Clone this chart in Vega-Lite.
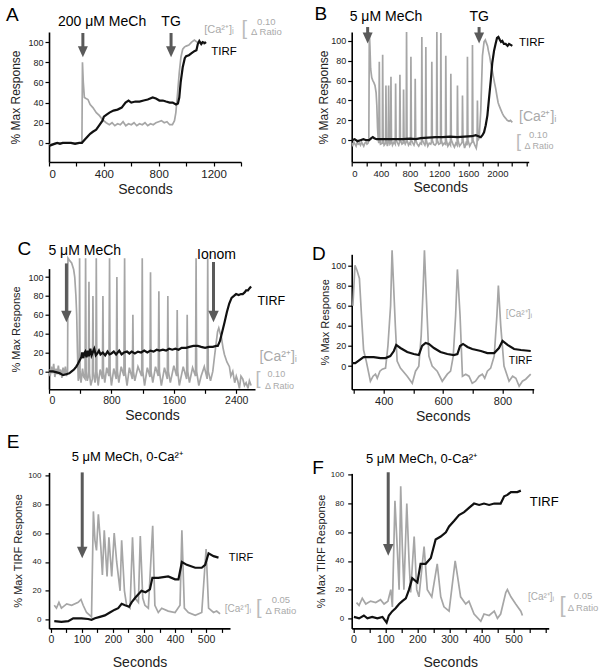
{
"$schema": "https://vega.github.io/schema/vega-lite/v6.json",
"padding": {"left": 5, "top": 5, "right": 0, "bottom": 0},
"config": {
  "font": "Liberation Sans",
  "view": {"stroke": null},
  "axis": {"grid": false, "labelOverlap": false, "domainColor": "#000", "domainWidth": 1.6, "tickColor": "#000", "tickSize": 4, "tickWidth": 1.2, "labelColor": "#222", "titleColor": "#222", "titleFontWeight": "normal", "labelFontSize": 9, "titleFontSize": 12, "labelPadding": 2, "titlePadding": 3}
},
"datasets": {
  "A_tirf": [{"t":0,"v":-3},{"t":20,"v":-2},{"t":40,"v":-1},{"t":60,"v":0},{"t":80,"v":-1},{"t":100,"v":0},{"t":130,"v":0},{"t":160,"v":0},{"t":190,"v":-1},{"t":220,"v":0},{"t":240,"v":0},{"t":260,"v":3},{"t":280,"v":6},{"t":300,"v":9},{"t":320,"v":11},{"t":344,"v":13},{"t":370,"v":18},{"t":390,"v":22},{"t":400,"v":26},{"t":420,"v":28},{"t":441,"v":30},{"t":470,"v":32},{"t":500,"v":33},{"t":530,"v":35},{"t":558,"v":40},{"t":580,"v":42},{"t":600,"v":40},{"t":630,"v":41},{"t":660,"v":41},{"t":690,"v":42},{"t":720,"v":43},{"t":756,"v":45},{"t":780,"v":44},{"t":805,"v":42},{"t":830,"v":42},{"t":853,"v":41},{"t":880,"v":40},{"t":902,"v":40},{"t":926,"v":38},{"t":940,"v":39},{"t":950,"v":45},{"t":960,"v":60},{"t":975,"v":75},{"t":990,"v":84},{"t":1000,"v":86},{"t":1020,"v":87},{"t":1040,"v":89},{"t":1060,"v":91},{"t":1075,"v":92},{"t":1085,"v":98},{"t":1096,"v":101},{"t":1110,"v":98},{"t":1120,"v":100},{"t":1135,"v":99},{"t":1145,"v":100}],
  "A_ca": [{"t":0,"v":-2},{"t":30,"v":-1},{"t":60,"v":0},{"t":100,"v":0},{"t":150,"v":0},{"t":200,"v":0},{"t":240,"v":0},{"t":244,"v":80},{"t":250,"v":60},{"t":258,"v":45},{"t":270,"v":44},{"t":284,"v":43},{"t":300,"v":38},{"t":320,"v":35},{"t":345,"v":30},{"t":368,"v":27},{"t":390,"v":23},{"t":417,"v":20},{"t":440,"v":18},{"t":460,"v":20},{"t":480,"v":17},{"t":500,"v":19},{"t":520,"v":18},{"t":540,"v":21},{"t":560,"v":17},{"t":580,"v":19},{"t":600,"v":18},{"t":620,"v":20},{"t":640,"v":17},{"t":660,"v":19},{"t":680,"v":18},{"t":700,"v":20},{"t":720,"v":17},{"t":740,"v":19},{"t":760,"v":18},{"t":780,"v":20},{"t":800,"v":21},{"t":820,"v":22},{"t":840,"v":20},{"t":860,"v":21},{"t":880,"v":18},{"t":900,"v":18},{"t":915,"v":22},{"t":925,"v":30},{"t":938,"v":50},{"t":950,"v":70},{"t":962,"v":85},{"t":975,"v":93},{"t":987,"v":95},{"t":1000,"v":96},{"t":1020,"v":97},{"t":1040,"v":100},{"t":1060,"v":102},{"t":1080,"v":100},{"t":1100,"v":100},{"t":1115,"v":99},{"t":1132,"v":98},{"t":1145,"v":100}],
  "B_tirf": [{"t":0,"v":0},{"t":40,"v":1},{"t":80,"v":-1},{"t":120,"v":0},{"t":160,"v":1},{"t":200,"v":0},{"t":240,"v":0},{"t":270,"v":2},{"t":290,"v":3},{"t":310,"v":2},{"t":340,"v":1},{"t":400,"v":1},{"t":500,"v":1},{"t":600,"v":1},{"t":700,"v":1},{"t":800,"v":1.5},{"t":881,"v":1},{"t":950,"v":2},{"t":1050,"v":2.5},{"t":1150,"v":3},{"t":1250,"v":3},{"t":1350,"v":3.5},{"t":1450,"v":3},{"t":1550,"v":3.5},{"t":1650,"v":4},{"t":1703,"v":5},{"t":1740,"v":4},{"t":1772,"v":3},{"t":1795,"v":5},{"t":1817,"v":8},{"t":1840,"v":15},{"t":1863,"v":25},{"t":1885,"v":42},{"t":1909,"v":60},{"t":1930,"v":78},{"t":1954,"v":90},{"t":1975,"v":97},{"t":1995,"v":103},{"t":2014,"v":104},{"t":2035,"v":101},{"t":2050,"v":99},{"t":2068,"v":100},{"t":2090,"v":97},{"t":2114,"v":97},{"t":2140,"v":95},{"t":2160,"v":97},{"t":2183,"v":96},{"t":2205,"v":95}],
  "B_ca": [{"t":0,"v":-3},{"t":15,"v":-5},{"t":30,"v":-2},{"t":45,"v":-4},{"t":60,"v":-6},{"t":75,"v":-2},{"t":90,"v":-4},{"t":105,"v":-3},{"t":120,"v":-5},{"t":135,"v":-2},{"t":150,"v":-4},{"t":165,"v":-6},{"t":180,"v":-3},{"t":195,"v":-2},{"t":210,"v":-4},{"t":225,"v":-3},{"t":235,"v":0},{"t":242,"v":110},{"t":250,"v":95},{"t":260,"v":72},{"t":275,"v":63},{"t":290,"v":60},{"t":305,"v":58},{"t":320,"v":55},{"t":335,"v":48},{"t":345,"v":35},{"t":355,"v":12},{"t":365,"v":0},{"t":372,"v":-3},{"t":379,"v":79},{"t":386,"v":2},{"t":395,"v":-4},{"t":420,"v":-3},{"t":425,"v":86},{"t":432,"v":0},{"t":445,"v":-5},{"t":465,"v":-3},{"t":470,"v":55},{"t":477,"v":-1},{"t":490,"v":-6},{"t":502,"v":-2},{"t":507,"v":55},{"t":514,"v":0},{"t":525,"v":-4},{"t":534,"v":-3},{"t":539,"v":64},{"t":546,"v":0},{"t":560,"v":-5},{"t":580,"v":-2},{"t":598,"v":-4},{"t":603,"v":57},{"t":610,"v":0},{"t":630,"v":-3},{"t":645,"v":-5},{"t":657,"v":-2},{"t":662,"v":66},{"t":669,"v":0},{"t":690,"v":-4},{"t":707,"v":-3},{"t":712,"v":51},{"t":719,"v":-1},{"t":735,"v":-4},{"t":748,"v":-2},{"t":753,"v":112},{"t":760,"v":0},{"t":780,"v":-5},{"t":795,"v":-3},{"t":808,"v":-4},{"t":813,"v":84},{"t":820,"v":0},{"t":840,"v":-3},{"t":855,"v":-5},{"t":867,"v":-2},{"t":872,"v":62},{"t":879,"v":0},{"t":900,"v":-4},{"t":920,"v":-6},{"t":940,"v":-3},{"t":958,"v":-4},{"t":963,"v":104},{"t":970,"v":0},{"t":990,"v":-3},{"t":1005,"v":-5},{"t":1013,"v":-3},{"t":1018,"v":94},{"t":1025,"v":0},{"t":1045,"v":-6},{"t":1065,"v":-3},{"t":1085,"v":-4},{"t":1095,"v":-2},{"t":1100,"v":79},{"t":1107,"v":0},{"t":1125,"v":-4},{"t":1145,"v":-5},{"t":1164,"v":-3},{"t":1169,"v":110},{"t":1176,"v":0},{"t":1195,"v":-4},{"t":1219,"v":-3},{"t":1224,"v":108},{"t":1231,"v":0},{"t":1250,"v":-5},{"t":1270,"v":-3},{"t":1287,"v":-4},{"t":1292,"v":85},{"t":1299,"v":0},{"t":1320,"v":-6},{"t":1340,"v":-3},{"t":1356,"v":-5},{"t":1361,"v":67},{"t":1368,"v":0},{"t":1390,"v":-4},{"t":1410,"v":-7},{"t":1430,"v":-3},{"t":1447,"v":-5},{"t":1452,"v":55},{"t":1459,"v":0},{"t":1480,"v":-6},{"t":1500,"v":-4},{"t":1516,"v":-2},{"t":1521,"v":45},{"t":1528,"v":0},{"t":1550,"v":-8},{"t":1570,"v":-3},{"t":1584,"v":-5},{"t":1589,"v":84},{"t":1596,"v":0},{"t":1620,"v":-6},{"t":1640,"v":-3},{"t":1653,"v":-2},{"t":1658,"v":96},{"t":1665,"v":0},{"t":1690,"v":-5},{"t":1710,"v":-8},{"t":1721,"v":-3},{"t":1726,"v":40},{"t":1733,"v":0},{"t":1750,"v":2},{"t":1772,"v":30},{"t":1795,"v":85},{"t":1817,"v":99},{"t":1835,"v":101},{"t":1849,"v":98},{"t":1865,"v":95},{"t":1877,"v":90},{"t":1893,"v":85},{"t":1909,"v":78},{"t":1925,"v":72},{"t":1940,"v":66},{"t":1960,"v":58},{"t":1977,"v":52},{"t":1995,"v":44},{"t":2010,"v":38},{"t":2023,"v":35},{"t":2045,"v":31},{"t":2068,"v":27},{"t":2090,"v":24},{"t":2114,"v":22},{"t":2135,"v":20},{"t":2160,"v":19},{"t":2180,"v":20},{"t":2205,"v":18}],
  "C_tirf": [{"t":0,"v":0},{"t":50,"v":0},{"t":100,"v":-1},{"t":140,"v":-2},{"t":180,"v":-4},{"t":220,"v":-3},{"t":260,"v":-2},{"t":290,"v":0},{"t":320,"v":2},{"t":350,"v":5},{"t":371,"v":8},{"t":395,"v":12},{"t":414,"v":15},{"t":425,"v":20},{"t":440,"v":14},{"t":450,"v":19},{"t":465,"v":21},{"t":480,"v":15},{"t":495,"v":22},{"t":510,"v":16},{"t":530,"v":24},{"t":545,"v":17},{"t":560,"v":20},{"t":580,"v":24},{"t":600,"v":17},{"t":620,"v":19},{"t":640,"v":22},{"t":660,"v":18},{"t":690,"v":20},{"t":720,"v":17},{"t":750,"v":21},{"t":776,"v":18},{"t":800,"v":19},{"t":830,"v":21},{"t":860,"v":18},{"t":880,"v":20},{"t":900,"v":22},{"t":930,"v":18},{"t":960,"v":20},{"t":1000,"v":21},{"t":1030,"v":19},{"t":1060,"v":21},{"t":1100,"v":19},{"t":1140,"v":21},{"t":1180,"v":20},{"t":1220,"v":22},{"t":1260,"v":20},{"t":1300,"v":22},{"t":1340,"v":21},{"t":1380,"v":23},{"t":1416,"v":22},{"t":1460,"v":23},{"t":1500,"v":22},{"t":1540,"v":24},{"t":1580,"v":23},{"t":1620,"v":24},{"t":1660,"v":23},{"t":1700,"v":25},{"t":1758,"v":25},{"t":1800,"v":26},{"t":1850,"v":27},{"t":1907,"v":27},{"t":1950,"v":26},{"t":2000,"v":25},{"t":2050,"v":26},{"t":2100,"v":26},{"t":2142,"v":27},{"t":2163,"v":27},{"t":2190,"v":32},{"t":2220,"v":42},{"t":2250,"v":52},{"t":2280,"v":63},{"t":2310,"v":72},{"t":2340,"v":78},{"t":2370,"v":80},{"t":2398,"v":82},{"t":2430,"v":81},{"t":2460,"v":82},{"t":2483,"v":82},{"t":2510,"v":84},{"t":2526,"v":86},{"t":2550,"v":86},{"t":2568,"v":88},{"t":2590,"v":90}],
  "C_ca": [{"t":0,"v":2},{"t":15,"v":-5},{"t":30,"v":5},{"t":45,"v":-2},{"t":60,"v":8},{"t":75,"v":-6},{"t":90,"v":3},{"t":105,"v":-3},{"t":120,"v":6},{"t":135,"v":-4},{"t":150,"v":2},{"t":165,"v":-7},{"t":180,"v":4},{"t":195,"v":-3},{"t":210,"v":5},{"t":225,"v":-5},{"t":238,"v":0},{"t":243,"v":120},{"t":260,"v":118},{"t":290,"v":115},{"t":316,"v":108},{"t":330,"v":100},{"t":345,"v":80},{"t":355,"v":60},{"t":365,"v":20},{"t":375,"v":-10},{"t":388,"v":-5},{"t":392,"v":120},{"t":398,"v":0},{"t":410,"v":-12},{"t":430,"v":3},{"t":445,"v":-6},{"t":462,"v":-8},{"t":469,"v":120},{"t":476,"v":0},{"t":490,"v":-10},{"t":505,"v":-5},{"t":512,"v":95},{"t":519,"v":-2},{"t":535,"v":-15},{"t":556,"v":-8},{"t":563,"v":80},{"t":570,"v":0},{"t":590,"v":-12},{"t":600,"v":-5},{"t":606,"v":120},{"t":613,"v":0},{"t":630,"v":-15},{"t":655,"v":2},{"t":684,"v":-8},{"t":691,"v":80},{"t":698,"v":0},{"t":715,"v":-12},{"t":740,"v":4},{"t":768,"v":-5},{"t":776,"v":120},{"t":783,"v":0},{"t":800,"v":-15},{"t":830,"v":3},{"t":862,"v":-8},{"t":870,"v":100},{"t":877,"v":0},{"t":895,"v":-12},{"t":925,"v":5},{"t":960,"v":-5},{"t":969,"v":120},{"t":976,"v":0},{"t":1000,"v":-15},{"t":1030,"v":4},{"t":1068,"v":-8},{"t":1075,"v":60},{"t":1082,"v":0},{"t":1100,"v":-10},{"t":1140,"v":5},{"t":1188,"v":-5},{"t":1195,"v":120},{"t":1202,"v":0},{"t":1225,"v":-15},{"t":1260,"v":4},{"t":1294,"v":-6},{"t":1301,"v":105},{"t":1308,"v":0},{"t":1330,"v":-12},{"t":1365,"v":5},{"t":1400,"v":-5},{"t":1408,"v":85},{"t":1415,"v":0},{"t":1440,"v":-15},{"t":1480,"v":4},{"t":1516,"v":-8},{"t":1523,"v":80},{"t":1530,"v":0},{"t":1555,"v":-12},{"t":1600,"v":6},{"t":1636,"v":-5},{"t":1643,"v":65},{"t":1650,"v":0},{"t":1670,"v":-15},{"t":1720,"v":5},{"t":1764,"v":-8},{"t":1771,"v":60},{"t":1778,"v":0},{"t":1800,"v":-12},{"t":1840,"v":4},{"t":1878,"v":-5},{"t":1885,"v":120},{"t":1892,"v":0},{"t":1920,"v":-15},{"t":1950,"v":-5},{"t":1990,"v":5},{"t":2027,"v":-8},{"t":2034,"v":120},{"t":2041,"v":0},{"t":2070,"v":-10},{"t":2099,"v":0},{"t":2120,"v":15},{"t":2142,"v":30},{"t":2160,"v":42},{"t":2176,"v":46},{"t":2195,"v":40},{"t":2206,"v":38},{"t":2230,"v":25},{"t":2248,"v":18},{"t":2280,"v":10},{"t":2312,"v":5},{"t":2330,"v":-5},{"t":2355,"v":0},{"t":2380,"v":-12},{"t":2400,"v":-5},{"t":2419,"v":-10},{"t":2440,"v":-18},{"t":2460,"v":-5},{"t":2483,"v":-8},{"t":2505,"v":-15},{"t":2526,"v":-12},{"t":2550,"v":-18},{"t":2568,"v":-10},{"t":2590,"v":-15}],
  "D_tirf": [{"t":293,"v":3},{"t":304,"v":3},{"t":318,"v":6},{"t":332,"v":9},{"t":366,"v":9},{"t":389,"v":8},{"t":406,"v":8},{"t":422,"v":10},{"t":434,"v":15},{"t":442,"v":21},{"t":456,"v":18},{"t":479,"v":14},{"t":501,"v":12},{"t":518,"v":11},{"t":529,"v":20},{"t":541,"v":23},{"t":552,"v":22},{"t":569,"v":18},{"t":591,"v":14},{"t":614,"v":12},{"t":636,"v":11},{"t":648,"v":12},{"t":657,"v":20},{"t":667,"v":22},{"t":682,"v":19},{"t":698,"v":17},{"t":727,"v":15},{"t":749,"v":13},{"t":772,"v":13},{"t":788,"v":18},{"t":800,"v":25},{"t":817,"v":21},{"t":839,"v":17},{"t":862,"v":16},{"t":895,"v":15}],
  "D_ca": [{"t":296,"v":60},{"t":303,"v":100},{"t":310,"v":95},{"t":318,"v":87},{"t":325,"v":50},{"t":332,"v":16},{"t":341,"v":5},{"t":355,"v":-15},{"t":364,"v":-10},{"t":372,"v":-8},{"t":378,"v":-12},{"t":387,"v":-5},{"t":395,"v":-3},{"t":406,"v":-2},{"t":414,"v":20},{"t":423,"v":60},{"t":428,"v":115},{"t":439,"v":40},{"t":445,"v":5},{"t":456,"v":-2},{"t":479,"v":-10},{"t":496,"v":-17},{"t":507,"v":-5},{"t":518,"v":0},{"t":526,"v":30},{"t":533,"v":80},{"t":537,"v":115},{"t":546,"v":50},{"t":552,"v":10},{"t":563,"v":0},{"t":580,"v":-5},{"t":597,"v":-15},{"t":614,"v":-8},{"t":625,"v":-5},{"t":634,"v":10},{"t":642,"v":50},{"t":648,"v":96},{"t":657,"v":50},{"t":665,"v":-10},{"t":676,"v":-8},{"t":687,"v":-10},{"t":698,"v":-17},{"t":709,"v":-15},{"t":721,"v":-10},{"t":732,"v":-8},{"t":740,"v":-12},{"t":749,"v":-5},{"t":760,"v":-2},{"t":772,"v":10},{"t":781,"v":50},{"t":786,"v":80},{"t":794,"v":40},{"t":805,"v":0},{"t":822,"v":-15},{"t":834,"v":-10},{"t":845,"v":-12},{"t":856,"v":-20},{"t":867,"v":-15},{"t":878,"v":-13},{"t":895,"v":-8}],
  "E_tirf": [{"t":11,"v":-1},{"t":34,"v":-1.5},{"t":56,"v":-1},{"t":72,"v":1},{"t":99,"v":1},{"t":120,"v":0.5},{"t":131,"v":0},{"t":142,"v":1},{"t":158,"v":2},{"t":174,"v":3},{"t":190,"v":5},{"t":206,"v":7},{"t":217,"v":8},{"t":228,"v":11},{"t":239,"v":10},{"t":252,"v":9},{"t":260,"v":12},{"t":271,"v":15},{"t":292,"v":20},{"t":305,"v":19},{"t":319,"v":21},{"t":327,"v":29},{"t":346,"v":29},{"t":378,"v":30},{"t":400,"v":28},{"t":411,"v":28},{"t":422,"v":40},{"t":438,"v":38},{"t":465,"v":36},{"t":486,"v":36},{"t":497,"v":38},{"t":508,"v":46},{"t":524,"v":44},{"t":540,"v":43}],
  "E_ca": [{"t":11,"v":10},{"t":18,"v":8},{"t":26,"v":12},{"t":34,"v":8},{"t":51,"v":11},{"t":67,"v":10},{"t":88,"v":12},{"t":97,"v":14},{"t":104,"v":10},{"t":115,"v":5},{"t":131,"v":2},{"t":137,"v":75},{"t":142,"v":55},{"t":147,"v":48},{"t":153,"v":73},{"t":161,"v":50},{"t":166,"v":31},{"t":172,"v":62},{"t":181,"v":30},{"t":187,"v":57},{"t":196,"v":30},{"t":204,"v":60},{"t":212,"v":40},{"t":223,"v":20},{"t":228,"v":55},{"t":237,"v":20},{"t":244,"v":10},{"t":255,"v":8},{"t":263,"v":57},{"t":271,"v":15},{"t":282,"v":12},{"t":288,"v":58},{"t":296,"v":15},{"t":303,"v":10},{"t":314,"v":8},{"t":328,"v":65},{"t":335,"v":10},{"t":346,"v":5},{"t":357,"v":8},{"t":378,"v":6},{"t":400,"v":5},{"t":416,"v":10},{"t":422,"v":62},{"t":430,"v":8},{"t":443,"v":5},{"t":465,"v":3},{"t":486,"v":5},{"t":500,"v":49},{"t":508,"v":8},{"t":524,"v":5},{"t":534,"v":6},{"t":545,"v":4}],
  "F_tirf": [{"t":2,"v":1},{"t":18,"v":0},{"t":33,"v":2},{"t":44,"v":0},{"t":59,"v":1},{"t":75,"v":0},{"t":91,"v":1},{"t":104,"v":-3},{"t":111,"v":2},{"t":122,"v":5},{"t":132,"v":7},{"t":143,"v":10},{"t":153,"v":12},{"t":164,"v":14},{"t":174,"v":20},{"t":184,"v":28},{"t":200,"v":25},{"t":210,"v":38},{"t":226,"v":38},{"t":242,"v":42},{"t":257,"v":55},{"t":273,"v":57},{"t":289,"v":60},{"t":299,"v":64},{"t":315,"v":68},{"t":330,"v":72},{"t":346,"v":74},{"t":361,"v":77},{"t":377,"v":80},{"t":393,"v":79},{"t":408,"v":80},{"t":424,"v":79},{"t":440,"v":80},{"t":460,"v":80},{"t":471,"v":85},{"t":481,"v":86},{"t":492,"v":88},{"t":512,"v":88},{"t":523,"v":89}],
  "F_ca": [{"t":10,"v":11},{"t":18,"v":9},{"t":28,"v":14},{"t":39,"v":10},{"t":54,"v":12},{"t":70,"v":11},{"t":85,"v":13},{"t":96,"v":10},{"t":108,"v":12},{"t":117,"v":20},{"t":122,"v":8},{"t":130,"v":82},{"t":137,"v":50},{"t":143,"v":20},{"t":148,"v":92},{"t":153,"v":50},{"t":158,"v":20},{"t":167,"v":80},{"t":174,"v":40},{"t":179,"v":18},{"t":190,"v":57},{"t":198,"v":20},{"t":205,"v":15},{"t":221,"v":50},{"t":231,"v":20},{"t":245,"v":15},{"t":262,"v":38},{"t":273,"v":15},{"t":283,"v":8},{"t":299,"v":5},{"t":318,"v":40},{"t":325,"v":30},{"t":335,"v":15},{"t":351,"v":10},{"t":361,"v":12},{"t":377,"v":3},{"t":398,"v":-2},{"t":408,"v":3},{"t":424,"v":2},{"t":440,"v":5},{"t":450,"v":0},{"t":460,"v":3},{"t":476,"v":18},{"t":481,"v":20},{"t":492,"v":15},{"t":507,"v":10},{"t":523,"v":5},{"t":528,"v":2}]
},
"columns": 2,
"spacing": {"row": 82.7, "column": 96.7},
"bounds": "flush",
"align": "each",
"concat": [
     {"width": 192, "height": 130, "layer": [
       {"data": {"name": "A_ca"}, "mark": {"type": "line", "color": "#a6a6a6", "strokeWidth": 1.7, "clip": true},
        "encoding": {"x": {"field": "t", "type": "quantitative", "scale": {"domain": [0, 1400], "nice": false, "zero": false}, "axis": {"title": "Seconds", "format": "d", "tickCount": 100, "labelOverlap": false, "values": [0,200,400,600,800,1000,1200,1400], "labelExpr": "datum.value % 400 === 0 ? datum.label : ''", "labelFontSize": 11.5, "titleFontSize": 14}},
                     "y": {"field": "v", "type": "quantitative", "scale": {"domain": [-19, 110], "nice": false, "zero": false}, "axis": {"title": "% Max Response", "tickCount": 100, "labelOverlap": false, "values": [0,20,40,60,80,100], "titlePadding": 5}}}},
       {"data": {"name": "A_tirf"}, "mark": {"type": "line", "color": "#111", "strokeWidth": 2.2, "clip": true}, "encoding": {"x": {"field": "t", "type": "quantitative"}, "y": {"field": "v", "type": "quantitative"}}},
       {"data": {"values": [{}]}, "mark": {"type": "text", "text": "A", "fontSize": 19, "align": "center", "baseline": "middle"}, "encoding": {"x": {"datum": -268}, "y": {"datum": 127}}},
       {"data": {"values": [{}]}, "mark": {"type": "text", "text": "200 μM MeCh", "fontSize": 14, "align": "center", "baseline": "middle"}, "encoding": {"x": {"datum": 387}, "y": {"datum": 120}}},
       {"data": {"values": [{}]}, "mark": {"type": "text", "text": "TG", "fontSize": 14, "align": "center", "baseline": "middle"}, "encoding": {"x": {"datum": 890}, "y": {"datum": 120}}},
       {"data": {"values": [{}]}, "mark": {"type": "rule", "color": "#5a5a5a", "strokeWidth": 3}, "encoding": {"x": {"datum": 247}, "y": {"datum": 109}, "y2": {"datum": 92}}},
       {"data": {"values": [{}]}, "mark": {"type": "rule", "color": "#5a5a5a", "strokeWidth": 3}, "encoding": {"x": {"datum": 890}, "y": {"datum": 109}, "y2": {"datum": 92}}},
       {"data": {"values": [{}]}, "mark": {"type": "point", "shape": "M-1,-2.2L1,-2.2L0,0Z", "filled": true, "size": 100, "color": "#5a5a5a", "opacity": 1}, "encoding": {"x": {"datum": 247}, "y": {"datum": 85}}},
       {"data": {"values": [{}]}, "mark": {"type": "point", "shape": "M-1,-2.2L1,-2.2L0,0Z", "filled": true, "size": 100, "color": "#5a5a5a", "opacity": 1}, "encoding": {"x": {"datum": 890}, "y": {"datum": 85}}},
       {"data": {"values": [{}]}, "mark": {"type": "text", "text": "TIRF", "fontSize": 11.5, "align": "left", "baseline": "middle"}, "encoding": {"x": {"datum": 1183}, "y": {"datum": 90}}},
       {"data": {"values": [{}]}, "mark": {"type": "text", "text": "[Ca²⁺]ᵢ", "fontSize": 11, "align": "left", "baseline": "middle", "color": "#aaa"}, "encoding": {"x": {"datum": 1132}, "y": {"datum": 111.5}}},
       {"data": {"values": [{}]}, "mark": {"type": "text", "text": "[", "fontSize": 20, "align": "center", "baseline": "middle", "color": "#bbb"}, "encoding": {"x": {"datum": 1424}, "y": {"datum": 113}}},
       {"data": {"values": [{}]}, "mark": {"type": "text", "text": "0.10", "fontSize": 9.5, "align": "center", "baseline": "middle", "color": "#aaa"}, "encoding": {"x": {"datum": 1585}, "y": {"datum": 119.5}}},
       {"data": {"values": [{}]}, "mark": {"type": "text", "text": "Δ Ratio", "fontSize": 9.5, "align": "center", "baseline": "middle", "color": "#aaa"}, "encoding": {"x": {"datum": 1585}, "y": {"datum": 109.6}}}
     ]},
     {"width": 177, "height": 130, "layer": [
       {"data": {"name": "B_ca"}, "mark": {"type": "line", "color": "#a6a6a6", "strokeWidth": 1.7, "clip": true},
        "encoding": {"x": {"field": "t", "type": "quantitative", "scale": {"domain": [0, 2430], "nice": false, "zero": false}, "axis": {"title": "Seconds", "format": "d", "tickCount": 100, "labelOverlap": false, "values": [0,200,400,600,800,1000,1200,1400,1600,1800,2000,2200,2400], "labelExpr": "datum.value % 400 === 0 && datum.value < 2400 ? datum.label : ''", "labelFontSize": 9.5, "titleFontSize": 14}},
                     "y": {"field": "v", "type": "quantitative", "scale": {"domain": [-22, 109], "nice": false, "zero": false}, "axis": {"title": "% Max Response", "tickCount": 100, "labelOverlap": false, "values": [0,20,40,60,80,100], "titlePadding": 0}}}},
       {"data": {"name": "B_tirf"}, "mark": {"type": "line", "color": "#111", "strokeWidth": 2.2, "clip": true}, "encoding": {"x": {"field": "t", "type": "quantitative"}, "y": {"field": "v", "type": "quantitative"}}},
       {"data": {"values": [{}]}, "mark": {"type": "text", "text": "B", "fontSize": 19, "align": "center", "baseline": "middle"}, "encoding": {"x": {"datum": -422}, "y": {"datum": 127}}},
       {"data": {"values": [{}]}, "mark": {"type": "text", "text": "5 μM MeCh", "fontSize": 14, "align": "center", "baseline": "middle"}, "encoding": {"x": {"datum": 471}, "y": {"datum": 124}}},
       {"data": {"values": [{}]}, "mark": {"type": "text", "text": "TG", "fontSize": 14, "align": "center", "baseline": "middle"}, "encoding": {"x": {"datum": 1749}, "y": {"datum": 124}}},
       {"data": {"values": [{}]}, "mark": {"type": "rule", "color": "#5a5a5a", "strokeWidth": 3}, "encoding": {"x": {"datum": 219}, "y": {"datum": 114}, "y2": {"datum": 104}}},
       {"data": {"values": [{}]}, "mark": {"type": "rule", "color": "#5a5a5a", "strokeWidth": 3}, "encoding": {"x": {"datum": 1749}, "y": {"datum": 114}, "y2": {"datum": 104}}},
       {"data": {"values": [{}]}, "mark": {"type": "point", "shape": "M-1,-2.2L1,-2.2L0,0Z", "filled": true, "size": 100, "color": "#5a5a5a", "opacity": 1}, "encoding": {"x": {"datum": 219}, "y": {"datum": 97.5}}},
       {"data": {"values": [{}]}, "mark": {"type": "point", "shape": "M-1,-2.2L1,-2.2L0,0Z", "filled": true, "size": 100, "color": "#5a5a5a", "opacity": 1}, "encoding": {"x": {"datum": 1749}, "y": {"datum": 97.5}}},
       {"data": {"values": [{}]}, "mark": {"type": "text", "text": "TIRF", "fontSize": 11.5, "align": "left", "baseline": "middle"}, "encoding": {"x": {"datum": 2297}, "y": {"datum": 97.7}}},
       {"data": {"values": [{}]}, "mark": {"type": "text", "text": "[Ca²⁺]ᵢ", "fontSize": 14, "align": "left", "baseline": "middle", "color": "#aaa"}, "encoding": {"x": {"datum": 2297}, "y": {"datum": 23}}},
       {"data": {"values": [{}]}, "mark": {"type": "text", "text": "[", "fontSize": 18, "align": "center", "baseline": "middle", "color": "#bbb"}, "encoding": {"x": {"datum": 2290}, "y": {"datum": -2}}},
       {"data": {"values": [{}]}, "mark": {"type": "text", "text": "0.10", "fontSize": 9.5, "align": "center", "baseline": "middle", "color": "#aaa"}, "encoding": {"x": {"datum": 2560}, "y": {"datum": 5}}},
       {"data": {"values": [{}]}, "mark": {"type": "text", "text": "Δ Ratio", "fontSize": 9, "align": "center", "baseline": "middle", "color": "#aaa"}, "encoding": {"x": {"datum": 2570}, "y": {"datum": -6}}}
     ]},
     {"width": 206, "height": 144.6, "layer": [
       {"data": {"name": "C_ca"}, "mark": {"type": "line", "color": "#a6a6a6", "strokeWidth": 1.7, "clip": true},
        "encoding": {"x": {"field": "t", "type": "quantitative", "scale": {"domain": [0, 2640], "nice": false, "zero": false}, "axis": {"title": "Seconds", "format": "d", "tickCount": 100, "labelOverlap": false, "values": [0,400,800,1200,1600,2000,2400], "labelExpr": "datum.value % 800 === 0 ? datum.label : ''", "labelFontSize": 10.5, "titleFontSize": 14}},
                     "y": {"field": "v", "type": "quantitative", "scale": {"domain": [-19, 109], "range": [144.6, 23.9], "nice": false, "zero": false}, "axis": {"title": "% Max Response", "tickCount": 100, "labelOverlap": false, "values": [0,20,40,60,80,100], "titleFontSize": 11, "titlePadding": 6}}}},
       {"data": {"name": "C_tirf"}, "mark": {"type": "line", "color": "#111", "strokeWidth": 2.2, "clip": true}, "encoding": {"x": {"field": "t", "type": "quantitative"}, "y": {"field": "v", "type": "quantitative"}}},
       {"data": {"values": [{}]}, "mark": {"type": "text", "text": "C", "fontSize": 19, "align": "center", "baseline": "middle"}, "encoding": {"x": {"datum": -317}, "y": {"datum": 130}}},
       {"data": {"values": [{}]}, "mark": {"type": "text", "text": "5 μM MeCh", "fontSize": 14, "align": "center", "baseline": "middle"}, "encoding": {"x": {"datum": 458}, "y": {"datum": 128}}},
       {"data": {"values": [{}]}, "mark": {"type": "text", "text": "Ionom", "fontSize": 14, "align": "center", "baseline": "middle"}, "encoding": {"x": {"datum": 2147}, "y": {"datum": 123}}},
       {"data": {"values": [{}]}, "mark": {"type": "rule", "color": "#5a5a5a", "strokeWidth": 3}, "encoding": {"x": {"datum": 223}, "y": {"datum": 114.5}, "y2": {"datum": 58}}},
       {"data": {"values": [{}]}, "mark": {"type": "rule", "color": "#5a5a5a", "strokeWidth": 3}, "encoding": {"x": {"datum": 2108}, "y": {"datum": 116}, "y2": {"datum": 58}}},
       {"data": {"values": [{}]}, "mark": {"type": "point", "shape": "M-1,-2.2L1,-2.2L0,0Z", "filled": true, "size": 110, "color": "#5a5a5a", "opacity": 1}, "encoding": {"x": {"datum": 223}, "y": {"datum": 52}}},
       {"data": {"values": [{}]}, "mark": {"type": "point", "shape": "M-1,-2.2L1,-2.2L0,0Z", "filled": true, "size": 110, "color": "#5a5a5a", "opacity": 1}, "encoding": {"x": {"datum": 2108}, "y": {"datum": 52}}},
       {"data": {"values": [{}]}, "mark": {"type": "text", "text": "TIRF", "fontSize": 12.5, "align": "left", "baseline": "middle"}, "encoding": {"x": {"datum": 2671}, "y": {"datum": 75}}},
       {"data": {"values": [{}]}, "mark": {"type": "text", "text": "[Ca²⁺]ᵢ", "fontSize": 14, "align": "left", "baseline": "middle", "color": "#aaa"}, "encoding": {"x": {"datum": 2697}, "y": {"datum": 15}}},
       {"data": {"values": [{}]}, "mark": {"type": "text", "text": "[", "fontSize": 18, "align": "center", "baseline": "middle", "color": "#bbb"}, "encoding": {"x": {"datum": 2680}, "y": {"datum": -8}}},
       {"data": {"values": [{}]}, "mark": {"type": "text", "text": "0.10", "fontSize": 9, "align": "center", "baseline": "middle", "color": "#aaa"}, "encoding": {"x": {"datum": 2914}, "y": {"datum": -3}}},
       {"data": {"values": [{}]}, "mark": {"type": "text", "text": "Δ Ratio", "fontSize": 9, "align": "center", "baseline": "middle", "color": "#aaa"}, "encoding": {"x": {"datum": 2953}, "y": {"datum": -15}}}
     ]},
     {"width": 182, "height": 144.6, "layer": [
       {"data": {"name": "D_ca"}, "mark": {"type": "line", "color": "#a6a6a6", "strokeWidth": 1.7, "clip": true},
        "encoding": {"x": {"field": "t", "type": "quantitative", "scale": {"domain": [292, 905], "nice": false, "zero": false}, "axis": {"title": "Seconds", "format": "d", "tickCount": 100, "labelOverlap": false, "values": [300,400,500,600,700,800,900], "labelExpr": "datum.value % 200 === 0 ? datum.label : ''", "labelFontSize": 11, "titleFontSize": 14}},
                     "y": {"field": "v", "type": "quantitative", "scale": {"domain": [-23, 111], "range": [144.6, 9.6], "nice": false, "zero": false}, "axis": {"title": "% Max Response", "tickCount": 100, "labelOverlap": false, "values": [0,20,40,60,80,100], "titleFontSize": 11, "titlePadding": 0}}}},
       {"data": {"name": "D_tirf"}, "mark": {"type": "line", "color": "#111", "strokeWidth": 2.2, "clip": true}, "encoding": {"x": {"field": "t", "type": "quantitative"}, "y": {"field": "v", "type": "quantitative"}}},
       {"data": {"values": [{}]}, "mark": {"type": "text", "text": "D", "fontSize": 19, "align": "center", "baseline": "middle"}, "encoding": {"x": {"datum": 181}, "y": {"datum": 111}}},
       {"data": {"values": [{}]}, "mark": {"type": "text", "text": "[Ca²⁺]ᵢ", "fontSize": 10, "align": "left", "baseline": "middle", "color": "#aaa"}, "encoding": {"x": {"datum": 811}, "y": {"datum": 52}}},
       {"data": {"values": [{}]}, "mark": {"type": "text", "text": "TIRF", "fontSize": 10.5, "align": "left", "baseline": "middle"}, "encoding": {"x": {"datum": 821}, "y": {"datum": 5}}}
     ]},
     {"width": 181, "height": 156, "layer": [
       {"data": {"name": "E_ca"}, "mark": {"type": "line", "color": "#a6a6a6", "strokeWidth": 1.7, "clip": true},
        "encoding": {"x": {"field": "t", "type": "quantitative", "scale": {"domain": [-6, 577], "nice": false, "zero": false}, "axis": {"title": "Seconds", "format": "d", "tickCount": 100, "labelOverlap": false, "values": [0,50,100,150,200,250,300,350,400,450,500,550], "labelExpr": "datum.value % 100 === 0 ? datum.label : ''", "labelFontSize": 10.5, "titleFontSize": 14, "titlePadding": 11}},
                     "y": {"field": "v", "type": "quantitative", "scale": {"domain": [-6, 102], "nice": false, "zero": false}, "axis": {"title": "% Max TIRF Response", "tickCount": 100, "labelOverlap": false, "values": [0,20,40,60,80,100], "labelFontSize": 8, "titleFontSize": 11, "labelPadding": 4, "titlePadding": 4}}}},
       {"data": {"name": "E_tirf"}, "mark": {"type": "line", "color": "#111", "strokeWidth": 2.2, "clip": true}, "encoding": {"x": {"field": "t", "type": "quantitative"}, "y": {"field": "v", "type": "quantitative"}}},
       {"data": {"values": [{}]}, "mark": {"type": "text", "text": "E", "fontSize": 19, "align": "center", "baseline": "middle"}, "encoding": {"x": {"datum": -122}, "y": {"datum": 123}}},
       {"data": {"values": [{}]}, "mark": {"type": "text", "text": "5 μM MeCh, 0-Ca²⁺", "fontSize": 13, "align": "center", "baseline": "middle"}, "encoding": {"x": {"datum": 246}, "y": {"datum": 113}}},
       {"data": {"values": [{}]}, "mark": {"type": "rule", "color": "#5a5a5a", "strokeWidth": 3}, "encoding": {"x": {"datum": 101}, "y": {"datum": 102}, "y2": {"datum": 47}}},
       {"data": {"values": [{}]}, "mark": {"type": "point", "shape": "M-1,-2.2L1,-2.2L0,0Z", "filled": true, "size": 110, "color": "#5a5a5a", "opacity": 1}, "encoding": {"x": {"datum": 101}, "y": {"datum": 42.6}}},
       {"data": {"values": [{}]}, "mark": {"type": "text", "text": "TIRF", "fontSize": 11, "align": "left", "baseline": "middle"}, "encoding": {"x": {"datum": 573}, "y": {"datum": 42.6}}},
       {"data": {"values": [{}]}, "mark": {"type": "text", "text": "[Ca²⁺]ᵢ", "fontSize": 10, "align": "left", "baseline": "middle", "color": "#aaa"}, "encoding": {"x": {"datum": 560}, "y": {"datum": 7.7}}},
       {"data": {"values": [{}]}, "mark": {"type": "text", "text": "[", "fontSize": 20, "align": "center", "baseline": "middle", "color": "#bbb"}, "encoding": {"x": {"datum": 670}, "y": {"datum": 8}}},
       {"data": {"values": [{}]}, "mark": {"type": "text", "text": "0.05", "fontSize": 9.5, "align": "center", "baseline": "middle", "color": "#aaa"}, "encoding": {"x": {"datum": 741}, "y": {"datum": 14}}},
       {"data": {"values": [{}]}, "mark": {"type": "text", "text": "Δ Ratio", "fontSize": 9.5, "align": "center", "baseline": "middle", "color": "#aaa"}, "encoding": {"x": {"datum": 741}, "y": {"datum": 6.3}}}
     ]},
     {"width": 197, "height": 156, "layer": [
       {"data": {"name": "F_ca"}, "mark": {"type": "line", "color": "#a6a6a6", "strokeWidth": 1.7, "clip": true},
        "encoding": {"x": {"field": "t", "type": "quantitative", "scale": {"domain": [-5, 610], "nice": false, "zero": false}, "axis": {"title": "Seconds", "format": "d", "tickCount": 100, "labelOverlap": false, "values": [0,50,100,150,200,250,300,350,400,450,500,550,600], "labelExpr": "datum.value % 100 === 0 && datum.value <= 500 ? datum.label : ''", "labelFontSize": 10.5, "titleFontSize": 14, "titlePadding": 11}},
                     "y": {"field": "v", "type": "quantitative", "scale": {"domain": [-7, 101], "range": [156, 1], "nice": false, "zero": false}, "axis": {"title": "% Max TIRF Response", "tickCount": 100, "labelOverlap": false, "values": [0,20,40,60,80,100], "labelFontSize": 8, "titleFontSize": 11, "labelPadding": 4, "titlePadding": 4}}}},
       {"data": {"name": "F_tirf"}, "mark": {"type": "line", "color": "#111", "strokeWidth": 2.2, "clip": true}, "encoding": {"x": {"field": "t", "type": "quantitative"}, "y": {"field": "v", "type": "quantitative"}}},
       {"data": {"values": [{}]}, "mark": {"type": "text", "text": "F", "fontSize": 19, "align": "center", "baseline": "middle"}, "encoding": {"x": {"datum": -110}, "y": {"datum": 105}}},
       {"data": {"values": [{}]}, "mark": {"type": "text", "text": "5 μM MeCh, 0-Ca²⁺", "fontSize": 13, "align": "center", "baseline": "middle"}, "encoding": {"x": {"datum": 213}, "y": {"datum": 111}}},
       {"data": {"values": [{}]}, "mark": {"type": "rule", "color": "#5a5a5a", "strokeWidth": 3}, "encoding": {"x": {"datum": 109}, "y": {"datum": 101.8}, "y2": {"datum": 48}}},
       {"data": {"values": [{}]}, "mark": {"type": "point", "shape": "M-1,-2.2L1,-2.2L0,0Z", "filled": true, "size": 110, "color": "#5a5a5a", "opacity": 1}, "encoding": {"x": {"datum": 109}, "y": {"datum": 43.7}}},
       {"data": {"values": [{}]}, "mark": {"type": "text", "text": "TIRF", "fontSize": 13, "align": "left", "baseline": "middle"}, "encoding": {"x": {"datum": 551}, "y": {"datum": 81}}},
       {"data": {"values": [{}]}, "mark": {"type": "text", "text": "[Ca²⁺]ᵢ", "fontSize": 10, "align": "left", "baseline": "middle", "color": "#aaa"}, "encoding": {"x": {"datum": 545}, "y": {"datum": 14.6}}},
       {"data": {"values": [{}]}, "mark": {"type": "text", "text": "[", "fontSize": 22, "align": "center", "baseline": "middle", "color": "#bbb"}, "encoding": {"x": {"datum": 653}, "y": {"datum": 9}}},
       {"data": {"values": [{}]}, "mark": {"type": "text", "text": "0.05", "fontSize": 9.5, "align": "center", "baseline": "middle", "color": "#aaa"}, "encoding": {"x": {"datum": 717}, "y": {"datum": 15.8}}},
       {"data": {"values": [{}]}, "mark": {"type": "text", "text": "Δ Ratio", "fontSize": 9.5, "align": "center", "baseline": "middle", "color": "#aaa"}, "encoding": {"x": {"datum": 717}, "y": {"datum": 7.5}}}
     ]}
]
}
